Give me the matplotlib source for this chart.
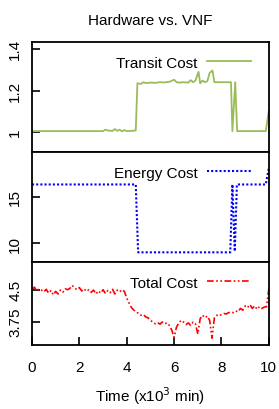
import matplotlib.pyplot as plt
import numpy as np

plt.rcParams['font.family'] = ['Liberation Sans', 'DejaVu Sans']

# transit cost (normalised)
transit_t = [0, 0.5, 1.0, 1.5, 2.0, 2.5, 3.0, 3.1, 3.2, 3.4, 3.5, 3.6, 3.7, 3.8, 3.9,
             4.0, 4.2, 4.38, 4.45, 4.6, 4.7, 4.8, 5.0, 5.2, 5.4, 5.6, 5.8, 6.0, 6.1,
             6.2, 6.4, 6.6, 6.7, 6.8, 6.9, 7.03, 7.1, 7.2, 7.3, 7.4, 7.5, 7.62, 7.7,
             7.8, 8.0, 8.2, 8.4, 8.46, 8.58, 8.66, 9.0, 9.5, 9.87, 10.0]
transit_cost = [1.005, 1.005, 1.005, 1.005, 1.005, 1.005, 1.005, 1.012, 1.008, 1.006,
                1.015, 1.006, 1.012, 1.004, 1.010, 1.005, 1.006, 1.008, 1.235, 1.232,
                1.240, 1.236, 1.238, 1.237, 1.240, 1.239, 1.242, 1.252, 1.240, 1.238,
                1.240, 1.238, 1.250, 1.240, 1.248, 1.290, 1.235, 1.248, 1.240, 1.245,
                1.285, 1.296, 1.240, 1.240, 1.240, 1.240, 1.240, 1.005, 1.240, 1.005,
                1.005, 1.005, 1.005, 1.105]

# energy cost
energy_t = [0, 4.38, 4.48, 8.37, 8.46, 8.56, 8.65, 9.87, 10.0]
energy_cost = [16.3, 16.3, 9.0, 9.0, 16.3, 9.1, 16.3, 16.3, 18.1]

# total cost
total_t = [0.0, 0.1, 0.2, 0.3, 0.4, 0.5, 0.6, 0.7, 0.8, 0.9,
           1.0, 1.1, 1.2, 1.3, 1.4, 1.5, 1.6, 1.7, 1.8, 1.9,
           2.0, 2.1, 2.2, 2.3, 2.4, 2.5, 2.6, 2.7, 2.8, 2.9,
           3.0, 3.1, 3.2, 3.3, 3.4, 3.5, 3.6, 3.7, 3.8, 3.9,
           4.0, 4.1, 4.2, 4.3, 4.4, 4.5, 4.6, 4.7, 4.8, 4.9,
           5.0, 5.1, 5.2, 5.3, 5.4, 5.5, 5.6, 5.7, 5.8, 5.9,
           6.0, 6.1, 6.2, 6.3, 6.4, 6.5, 6.6, 6.7, 6.8, 6.9,
           7.0, 7.1, 7.2, 7.3, 7.4, 7.5, 7.6, 7.7, 7.8, 7.9,
           8.0, 8.1, 8.2, 8.3, 8.4, 8.5, 8.6, 8.7, 8.8, 8.9,
           9.0, 9.1, 9.2, 9.3, 9.4, 9.5, 9.6, 9.7, 9.8, 9.9, 10.0]
total_cost = [4.50, 4.56, 4.47, 4.52, 4.49, 4.45, 4.51, 4.42, 4.48, 4.38,
              4.46, 4.40, 4.49, 4.44, 4.52, 4.50, 4.53, 4.60, 4.54, 4.50,
              4.55, 4.47, 4.52, 4.46, 4.50, 4.44, 4.49, 4.40, 4.47, 4.42,
              4.50, 4.41, 4.48, 4.43, 4.51, 4.40, 4.49, 4.45, 4.50, 4.46,
              4.30, 4.18, 4.08, 4.02, 3.98, 3.94, 3.90, 3.92, 3.86, 3.84,
              3.78, 3.74, 3.70, 3.73, 3.69, 3.74, 3.70, 3.72, 3.66, 3.55,
              3.38, 3.62, 3.72, 3.78, 3.74, 3.68, 3.72, 3.66, 3.74, 3.70,
              3.46, 3.82, 3.90, 3.84, 3.88, 3.78, 3.36, 3.84, 3.90, 3.88,
              3.92, 3.94, 3.93, 3.96, 3.98, 3.96, 4.00, 3.98, 4.06, 4.02,
              4.12, 4.08, 4.15, 4.06, 4.12, 4.04, 4.10, 4.06, 4.09, 4.10, 4.52]

x_ticks = [0, 2, 4, 6, 8, 10]

fig = plt.figure(figsize=(2.79, 4.10), dpi=100)
left, width = 0.1147, 0.849
ax1 = fig.add_axes([left, 0.627, width, 0.268])
ax2 = fig.add_axes([left, 0.359, width, 0.268])
ax3 = fig.add_axes([left, 0.156, width, 0.203])

ax1.plot(transit_t, transit_cost, color='#9bbb59', lw=1.3, label='Transit Cost')
ax2.plot(energy_t, energy_cost, color='#0000ff', lw=1.5, ls=(0, (1, 1)), label='Energy Cost')
ax3.plot(total_t, total_cost, color='#ff0000', lw=1.2,
         ls=(0, (4, 1.5, 1, 1.5, 1, 1.5)), label='Total Cost')

ax1.set_ylim(0.905, 1.433)
ax1.set_yticks([1, 1.2, 1.4], ['1', '1.2', '1.4'])
ax2.set_ylim(7.98, 19.8)
ax2.set_yticks([10, 15], ['10', '15'])
ax3.set_ylim(3.2, 5.155)
ax3.set_yticks([3.75, 4.5], ['3.75', '4.5'])

for ax, h_px in ((ax1, 110), (ax2, 110), (ax3, 83)):
    ax.set_xlim(0, 10)
    for s in ax.spines.values():
        s.set_linewidth(1.3)
    ax.tick_params(axis='y', direction='in', length=6, width=1.2, pad=7,
                   labelsize=11, labelrotation=90)
    for lab in ax.get_yticklabels():
        lab.set_va('center')
    ax.legend(loc='upper right', bbox_to_anchor=(1 - 7 / 237, 1 - 3 / h_px),
              markerfirst=False, frameon=False, fontsize=11,
              handlelength=2.9, handletextpad=0.6, borderaxespad=0.3)

for ax in (ax1, ax2):
    ax.set_xticks([])

ax3.set_xticks(x_ticks, [str(v) for v in x_ticks])
ax3.tick_params(axis='x', direction='in', length=6, width=1.2, pad=11, labelsize=11)
ax3.set_xlabel('Time (x10$^3$ min)', fontsize=11, labelpad=7)

fig.suptitle('Hardware vs. VNF', fontsize=11, y=0.965, x=0.54)

fig.savefig('out.png', dpi=100)
